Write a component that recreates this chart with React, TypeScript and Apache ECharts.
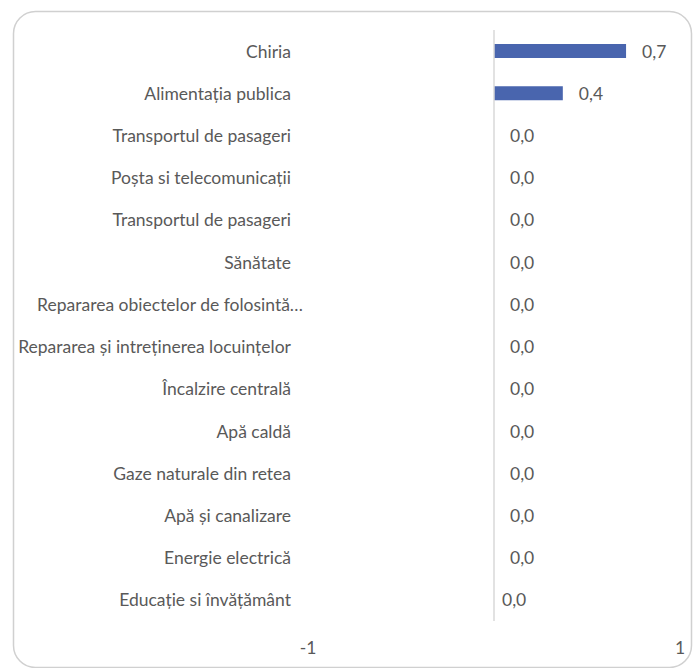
import React, { useEffect, useRef } from "react";
import * as echarts from "echarts";

const categories = [
  "Chiria",
  "Alimentația publica",
  "Transportul de pasageri",
  "Poșta si telecomunicații",
  "Transportul de pasageri",
  "Sănătate",
  "Repararea obiectelor de folosintă…",
  "Repararea și intreținerea locuințelor",
  "Încalzire centrală",
  "Apă caldă",
  "Gaze naturale din retea",
  "Apă și canalizare",
  "Energie electrică",
  "Educație si învățământ",
];

const values = [0.71, 0.37, 0, 0, 0, 0, 0, 0, 0, 0, 0, 0, 0, 0];

const axisMin = -1;
const axisMax = 1;

const FONT = "Lato";
const GRAY = "#595959";
const FS = 17.5;

export default function App() {
  const ref = useRef<HTMLDivElement>(null);

  useEffect(() => {
    document.body.style.margin = "0";
    if (!ref.current) return;
    const chart = echarts.init(ref.current, undefined, { renderer: "svg" });
    chart.setOption({
      animation: false,
      backgroundColor: "#ffffff",
      textStyle: { fontFamily: FONT },
      graphic: [
        {
          type: "rect",
          left: 11,
          top: 9,
          shape: { x: 0, y: 0, width: 678, height: 656, r: 22 },
          style: { fill: "none", stroke: "#d0d0d0", lineWidth: 1.5 },
          silent: true,
          z: -1,
        },
      ],
      grid: { left: 308, right: 14, top: 30, bottom: 47, containLabel: false },
      xAxis: {
        type: "value",
        min: axisMin,
        max: axisMax,
        interval: 1,
        axisLine: { show: false },
        axisTick: { show: false },
        splitLine: { show: false },
        axisLabel: {
          color: GRAY,
          fontSize: FS,
          fontFamily: FONT,
          margin: 17,
          formatter: (v: number) => (v === 0 ? "" : String(v)),
        },
      },
      yAxis: {
        type: "category",
        inverse: true,
        data: categories.map((c) =>
          c.endsWith("…") ? { value: c, textStyle: { padding: [0, -12, 0, 0] } } : c
        ),
        axisLine: { show: false },
        axisTick: { show: false },
        splitLine: { show: false },
        axisLabel: { color: GRAY, fontSize: FS, fontFamily: FONT, margin: 17 },
      },
      series: [
        {
          type: "bar",
          data: values.map((v, i) =>
            i === values.length - 1
              ? { value: v, label: { distance: 8 } }
              : v
          ),
          barWidth: 14,
          itemStyle: { color: "#4965ae" },
          label: {
            show: true,
            position: "right",
            distance: 16,
            color: GRAY,
            fontSize: FS,
            fontFamily: FONT,
            formatter: (p: any) => Number(p.value).toFixed(1).replace(".", ","),
          },
          markLine: {
            silent: true,
            symbol: "none",
            label: { show: false },
            lineStyle: { color: "#d9d9d9", width: 1.5, type: "solid" },
            data: [{ xAxis: 0 }],
          },
        },
      ],
    });
    return () => chart.dispose();
  }, []);

  return <div ref={ref} style={{ width: 694, height: 668 }} />;
}
